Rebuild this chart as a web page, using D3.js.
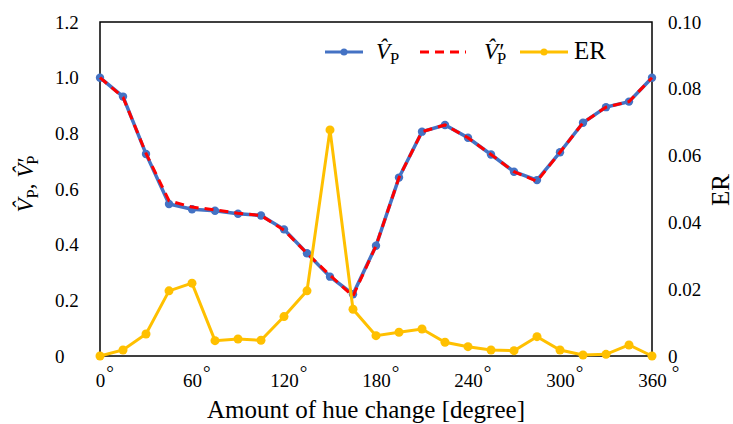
<!DOCTYPE html>
<html lang="en">
<head>
<meta charset="UTF-8">
<title>Hue change chart</title>
<script src="https://d3js.org/d3.v7.min.js"></script>
<style>
    body{ margin:0; background:#fff; }
    path.vp{ stroke:#4472C4; stroke-width:3.5px; fill:none; }
    path.vp2{ stroke:#FF0000; stroke-width:3px; fill:none; stroke-dasharray:9,6; }
    path.er{ stroke:#FFC000; stroke-width:3px; fill:none; }
</style>
</head>
<body>
<svg width="733" height="424"></svg>
<script>
    // hue change, degrees
    let hue = [0,15,30,45,60,75,90,105,120,135,150,165,180,195,210,225,240,255,270,285,300,315,330,345,360];
    let vp  = [1.0,0.932,0.726,0.546,0.527,0.522,0.511,0.505,0.455,0.369,0.285,0.222,0.396,0.641,0.806,0.830,0.784,0.724,0.662,0.632,0.732,0.838,0.894,0.914,1.0];
    let vp2 = [1.0,0.930,0.728,0.558,0.535,0.525,0.513,0.505,0.452,0.369,0.290,0.215,0.396,0.641,0.806,0.830,0.784,0.724,0.662,0.628,0.732,0.838,0.894,0.914,1.0];
    let er  = [0,0.0018,0.0066,0.0195,0.0218,0.0046,0.0051,0.0047,0.0118,0.0195,0.0677,0.0140,0.0061,0.0071,0.0081,0.0041,0.0028,0.0018,0.0016,0.0058,0.0018,0.0003,0.0005,0.0033,0];
    let leftTicks = [0,0.2,0.4,0.6,0.8,1.0,1.2];
    let rightTicks = [0,0.02,0.04,0.06,0.08,0.10];
    let hueTicks = [0,60,120,180,240,300,360];

    const FONT = '"Liberation Serif","Times New Roman",serif';
    let svg = d3.select('svg');
    let plot = {left:100, right:652, top:22, bottom:356};

    let xScale = d3.scaleLinear().domain([0,360]).range([plot.left, plot.right]);
    let yScale = d3.scaleLinear().domain([0,1.2]).range([plot.bottom, plot.top]);
    let erScale = d3.scaleLinear().domain([0,0.1]).range([plot.bottom, plot.top]);

    // frame
    svg.append('rect')
        .attr('x', plot.left).attr('y', plot.top)
        .attr('width', plot.right - plot.left).attr('height', plot.bottom - plot.top)
        .attr('fill','none').attr('stroke','#000').attr('stroke-width',1.5);

    // left axis
    let yAxis = svg.append('g')
        .attr('transform','translate('+plot.left+',0)')
        .call(d3.axisLeft(yScale).tickValues(leftTicks).tickSize(0)
            .tickFormat(function (d){ return d === 0 ? '0' : d.toFixed(1) }));
    yAxis.select('.domain').remove();
    yAxis.selectAll('text').attr('x',-45).attr('text-anchor','start').style('font-size','19px');

    // right axis
    let rAxis = svg.append('g')
        .attr('transform','translate('+plot.right+',0)')
        .call(d3.axisRight(erScale).tickValues(rightTicks).tickSize(0)
            .tickFormat(function (d){ return d === 0 ? '0' : d.toFixed(2) }));
    rAxis.select('.domain').remove();
    rAxis.selectAll('text').attr('x',16).attr('text-anchor','start').style('font-size','19px');

    // bottom axis, number centred on the tick, degree sign raised after it
    let xAxis = svg.append('g')
        .attr('transform','translate(0,'+plot.bottom+')')
        .call(d3.axisBottom(xScale).tickValues(hueTicks).tickSize(0).tickFormat(''));
    xAxis.select('.domain').remove();
    xAxis.selectAll('.tick').each(function (d){
        let g = d3.select(this);
        g.select('text').remove();
        let t = g.append('text').attr('y',31).attr('text-anchor','start')
            .style('font-size','19px').style('font-family',FONT);
        let num = t.append('tspan').text(d);
        let w = num.node().getComputedTextLength();
        t.attr('x', -w/2);
        t.append('tspan').attr('dx', d === 360 ? 5 : 1).attr('dy',-8).text('\u00B0');
    });

    // series
    let pts = hue.map(function (h,i){ return {h:h, vp:vp[i], vp2:vp2[i], er:er[i]} });
    let vpLine = d3.line().x(function (d){return xScale(d.h)}).y(function (d){return yScale(d.vp)});
    let vp2Line = d3.line().x(function (d){return xScale(d.h)}).y(function (d){return yScale(d.vp2)});
    let erLine = d3.line().x(function (d){return xScale(d.h)}).y(function (d){return erScale(d.er)});

    let fig = svg.append('g');
    fig.append('path').attr('class','vp').attr('d', vpLine(pts));
    fig.selectAll('circle.vp').data(pts).join('circle').attr('class','vp')
        .attr('cx',function (d){return xScale(d.h)}).attr('cy',function (d){return yScale(d.vp)})
        .attr('r',4.2).attr('fill','#4472C4');
    fig.append('path').attr('class','vp2').attr('d', vp2Line(pts));
    fig.append('path').attr('class','er').attr('d', erLine(pts));
    fig.selectAll('circle.er').data(pts).join('circle').attr('class','er')
        .attr('cx',function (d){return xScale(d.h)}).attr('cy',function (d){return erScale(d.er)})
        .attr('r',4.5).attr('fill','#FFC000');

    // V-hat-P label, optionally primed
    function vhat(sel, primed){
        sel.append('tspan').style('font-style','italic').text(primed ? 'V\u0302\u2032' : 'V\u0302');
        sel.append('tspan').attr('dx', primed ? -6 : 0).attr('dy',5).style('font-size','0.72em').text('P');
        sel.append('tspan').attr('dy',-5).text('');
    }

    // legend
    let lg = svg.append('g').attr('transform','translate(0,52)');
    lg.append('line').attr('x1',325).attr('x2',363).attr('stroke','#4472C4').attr('stroke-width',3);
    lg.append('circle').attr('cx',344).attr('r',3.5).attr('fill','#4472C4');
    vhat(lg.append('text').attr('x',376).attr('y',7).style('font-size','23px'), false);

    lg.append('line').attr('x1',420).attr('x2',466).attr('stroke','#FF0000').attr('stroke-width',3)
        .attr('stroke-dasharray','9,6');
    vhat(lg.append('text').attr('x',484).attr('y',7).style('font-size','23px'), true);

    lg.append('line').attr('x1',520).attr('x2',568).attr('stroke','#FFC000').attr('stroke-width',3);
    lg.append('circle').attr('cx',544).attr('r',3.5).attr('fill','#FFC000');
    lg.append('text').attr('x',574).attr('y',7).style('font-size','25px').text('ER');

    // axis titles
    svg.append('text').attr('x',366).attr('y',418)
        .attr('text-anchor','middle').style('font-size','25px')
        .text('Amount of hue change [degree]');

    svg.append('text').attr('transform','translate(729,190) rotate(-90)')
        .attr('text-anchor','middle').style('font-size','25px').text('ER');

    let lt = svg.append('text').attr('transform','translate(33,184) rotate(-90)')
        .attr('text-anchor','middle').style('font-size','23px');
    lt.append('tspan').style('font-style','italic').text('V\u0302');
    lt.append('tspan').attr('dy',5).style('font-size','0.72em').text('P');
    lt.append('tspan').attr('dy',-5).text(', ');
    lt.append('tspan').style('font-style','italic').text('V\u0302\u2032');
    lt.append('tspan').attr('dx',-6).attr('dy',5).style('font-size','0.72em').text('P');

    svg.selectAll('text').style('font-family', FONT).attr('fill','#000');
</script>
</body>
</html>
